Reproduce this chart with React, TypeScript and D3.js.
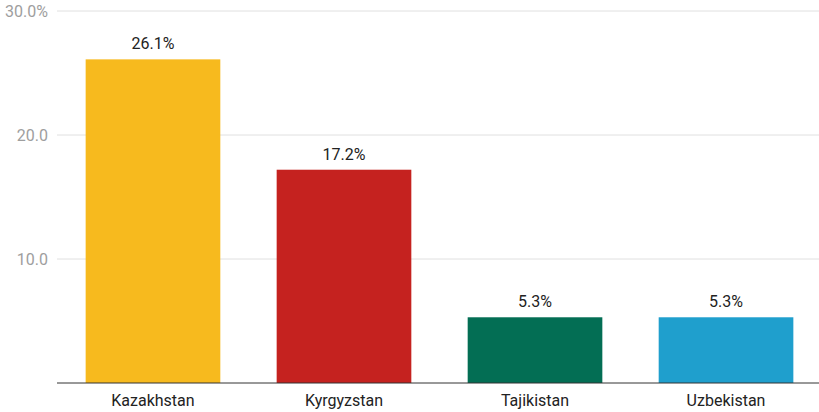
import React from "react";
import * as d3 from "d3";

const categories = ["Kazakhstan", "Kyrgyzstan", "Tajikistan", "Uzbekistan"];
const values = [26.1, 17.2, 5.3, 5.3];
const colors = ["#F7BA1E", "#C5221F", "#036E54", "#1F9FCD"];
const ticks = [10, 20, 30];
const tickLabels = ["10.0", "20.0", "30.0%"];

const W = 819;
const H = 412;

export default function App() {
  const x = d3.scaleBand<string>().domain(categories).range([57, 822]).paddingInner(0.295).paddingOuter(0.15);
  const y = d3.scaleLinear().domain([0, 30]).range([383, 11]);
  return (
    <svg width={W} height={H} style={{ position: "absolute", left: 0, top: 0, fontFamily: "Roboto, sans-serif" }}>
      <rect width={W} height={H} fill="#fff" />
      {ticks.map((t, i) => (
        <g key={t}>
          <line x1={57} x2={W} y1={y(t)} y2={y(t)} stroke="#e0e0e0" strokeWidth={1} />
          <text x={48} y={y(t)} dy="0.35em" textAnchor="end" fontSize={16} fill="#9e9e9e">
            {tickLabels[i]}
          </text>
        </g>
      ))}
      {categories.map((c, i) => (
        <g key={c}>
          <rect x={x(c)} y={y(values[i])} width={x.bandwidth()} height={y(0) - y(values[i])} fill={colors[i]} />
          <text x={x(c)! + x.bandwidth() / 2} y={y(values[i]) - 10} textAnchor="middle" fontSize={16} fill="#222">
            {values[i].toFixed(1) + "%"}
          </text>
          <text x={x(c)! + x.bandwidth() / 2} y={406} textAnchor="middle" fontSize={16} fill="#222">
            {c}
          </text>
        </g>
      ))}
      <line x1={57} x2={W} y1={y(0)} y2={y(0)} stroke="#333" strokeWidth={1} />
    </svg>
  );
}
